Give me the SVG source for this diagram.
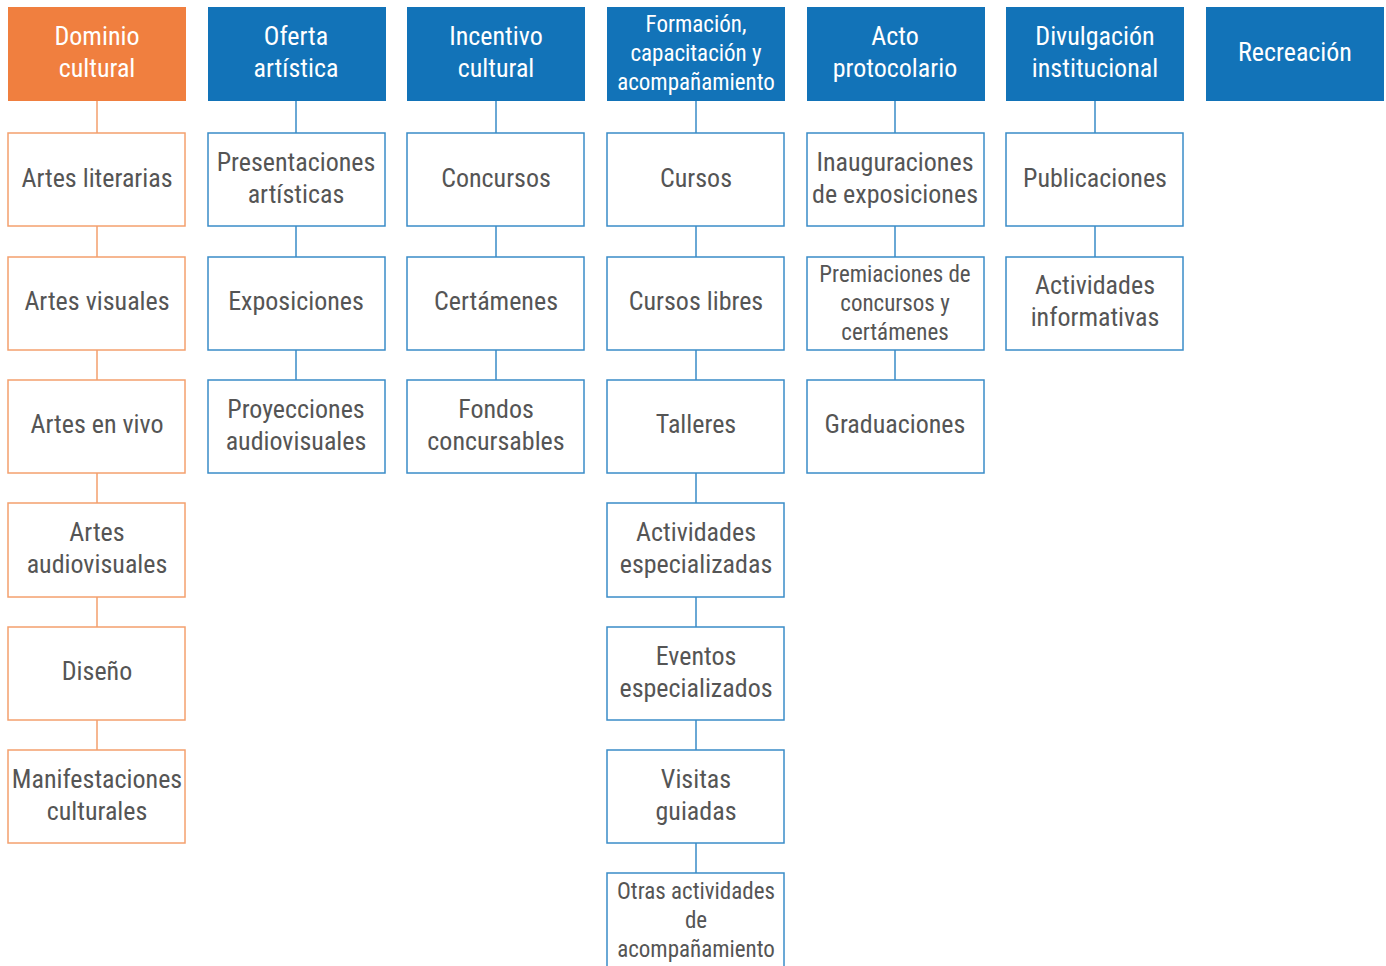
<svg xmlns="http://www.w3.org/2000/svg" width="1386" height="966" viewBox="0 0 1386 966">
<style>
text{font-family:"Roboto Condensed","Liberation Sans Narrow","DejaVu Sans Condensed",sans-serif;font-stretch:condensed;text-anchor:middle;font-size:26px}
.ho{fill:#F07F3F}
.hb{fill:#1273B8}
.ht{fill:#fff}
.co{fill:#fff;stroke:#F4A06E;stroke-width:1.5}
.cb{fill:#fff;stroke:#3A8CC8;stroke-width:1.5}
.ct{fill:#555}
.s{font-size:23px}
.lo{stroke:#F4A06E;stroke-width:1.5}
.lb{stroke:#3A8CC8;stroke-width:1.5}
</style>
<rect width="1386" height="966" fill="#fff"/>
<g id="connectors">
<path class="lo" d="M97 100V133M97 226V257M97 350V380M97 473V503M97 597V627M97 720V750"/>
<path class="lb" d="M296 100V133M296 226V257M296 350V380"/>
<path class="lb" d="M496 100V133M496 226V257M496 350V380"/>
<path class="lb" d="M696 100V133M696 226V257M696 350V380M696 473V503M696 597V627M696 720V750M696 843V873"/>
<path class="lb" d="M895 100V133M895 226V257M895 350V380"/>
<path class="lb" d="M1095 100V133M1095 226V257"/>
</g>
<g id="h-dominio"><rect class="ho" x="8" y="7" width="178" height="94"/><text class="ht" x="97" y="45">Dominio</text><text class="ht" x="97" y="77">cultural</text></g>
<g id="h-oferta"><rect class="hb" x="208" y="7" width="178" height="94"/><text class="ht" x="296" y="45">Oferta</text><text class="ht" x="296" y="77">artística</text></g>
<g id="h-incentivo"><rect class="hb" x="407" y="7" width="178" height="94"/><text class="ht" x="496" y="45">Incentivo</text><text class="ht" x="496" y="77">cultural</text></g>
<g id="h-formacion"><rect class="hb" x="607" y="7" width="178" height="94"/><text class="ht s" x="696" y="32">Formación,</text><text class="ht s" x="696" y="61">capacitación y</text><text class="ht s" x="696" y="90">acompañamiento</text></g>
<g id="h-acto"><rect class="hb" x="807" y="7" width="178" height="94"/><text class="ht" x="895" y="45">Acto</text><text class="ht" x="895" y="77">protocolario</text></g>
<g id="h-divulgacion"><rect class="hb" x="1006" y="7" width="178" height="94"/><text class="ht" x="1095" y="45">Divulgación</text><text class="ht" x="1095" y="77">institucional</text></g>
<g id="h-recreacion"><rect class="hb" x="1206" y="7" width="178" height="94"/><text class="ht" x="1295" y="61">Recreación</text></g>

<g id="n-artes-literarias"><rect class="co" x="8" y="133" width="177" height="93"/><text class="ct" x="97" y="187">Artes literarias</text></g>
<g id="n-artes-visuales"><rect class="co" x="8" y="257" width="177" height="93"/><text class="ct" x="97" y="310">Artes visuales</text></g>
<g id="n-artes-vivo"><rect class="co" x="8" y="380" width="177" height="93"/><text class="ct" x="97" y="433">Artes en vivo</text></g>
<g id="n-artes-audiovisuales"><rect class="co" x="8" y="503" width="177" height="94"/><text class="ct" x="97" y="541">Artes</text><text class="ct" x="97" y="573">audiovisuales</text></g>
<g id="n-diseno"><rect class="co" x="8" y="627" width="177" height="93"/><text class="ct" x="97" y="680">Diseño</text></g>
<g id="n-manifestaciones"><rect class="co" x="8" y="750" width="177" height="93"/><text class="ct" x="97" y="788">Manifestaciones</text><text class="ct" x="97" y="820">culturales</text></g>

<g id="n-presentaciones"><rect class="cb" x="208" y="133" width="177" height="93"/><text class="ct" x="296" y="171">Presentaciones</text><text class="ct" x="296" y="203">artísticas</text></g>
<g id="n-exposiciones"><rect class="cb" x="208" y="257" width="177" height="93"/><text class="ct" x="296" y="310">Exposiciones</text></g>
<g id="n-proyecciones"><rect class="cb" x="208" y="380" width="177" height="93"/><text class="ct" x="296" y="418">Proyecciones</text><text class="ct" x="296" y="450">audiovisuales</text></g>

<g id="n-concursos"><rect class="cb" x="407" y="133" width="177" height="93"/><text class="ct" x="496" y="187">Concursos</text></g>
<g id="n-certamenes"><rect class="cb" x="407" y="257" width="177" height="93"/><text class="ct" x="496" y="310">Certámenes</text></g>
<g id="n-fondos"><rect class="cb" x="407" y="380" width="177" height="93"/><text class="ct" x="496" y="418">Fondos</text><text class="ct" x="496" y="450">concursables</text></g>

<g id="n-cursos"><rect class="cb" x="607" y="133" width="177" height="93"/><text class="ct" x="696" y="187">Cursos</text></g>
<g id="n-cursos-libres"><rect class="cb" x="607" y="257" width="177" height="93"/><text class="ct" x="696" y="310">Cursos libres</text></g>
<g id="n-talleres"><rect class="cb" x="607" y="380" width="177" height="93"/><text class="ct" x="696" y="433">Talleres</text></g>
<g id="n-actividades-esp"><rect class="cb" x="607" y="503" width="177" height="94"/><text class="ct" x="696" y="541">Actividades</text><text class="ct" x="696" y="573">especializadas</text></g>
<g id="n-eventos-esp"><rect class="cb" x="607" y="627" width="177" height="93"/><text class="ct" x="696" y="665">Eventos</text><text class="ct" x="696" y="697">especializados</text></g>
<g id="n-visitas"><rect class="cb" x="607" y="750" width="177" height="93"/><text class="ct" x="696" y="788">Visitas</text><text class="ct" x="696" y="820">guiadas</text></g>
<g id="n-otras"><rect class="cb" x="607" y="873" width="177" height="96"/><text class="ct s" x="696" y="899">Otras actividades</text><text class="ct s" x="696" y="928">de</text><text class="ct s" x="696" y="957">acompañamiento</text></g>

<g id="n-inauguraciones"><rect class="cb" x="807" y="133" width="177" height="93"/><text class="ct" x="895" y="171">Inauguraciones</text><text class="ct" x="895" y="203">de exposiciones</text></g>
<g id="n-premiaciones"><rect class="cb" x="807" y="257" width="177" height="93"/><text class="ct s" x="895" y="282">Premiaciones de</text><text class="ct s" x="895" y="311">concursos y</text><text class="ct s" x="895" y="340">certámenes</text></g>
<g id="n-graduaciones"><rect class="cb" x="807" y="380" width="177" height="93"/><text class="ct" x="895" y="433">Graduaciones</text></g>

<g id="n-publicaciones"><rect class="cb" x="1006" y="133" width="177" height="93"/><text class="ct" x="1095" y="187">Publicaciones</text></g>
<g id="n-actividades-inf"><rect class="cb" x="1006" y="257" width="177" height="93"/><text class="ct" x="1095" y="294">Actividades</text><text class="ct" x="1095" y="326">informativas</text></g>
</svg>
